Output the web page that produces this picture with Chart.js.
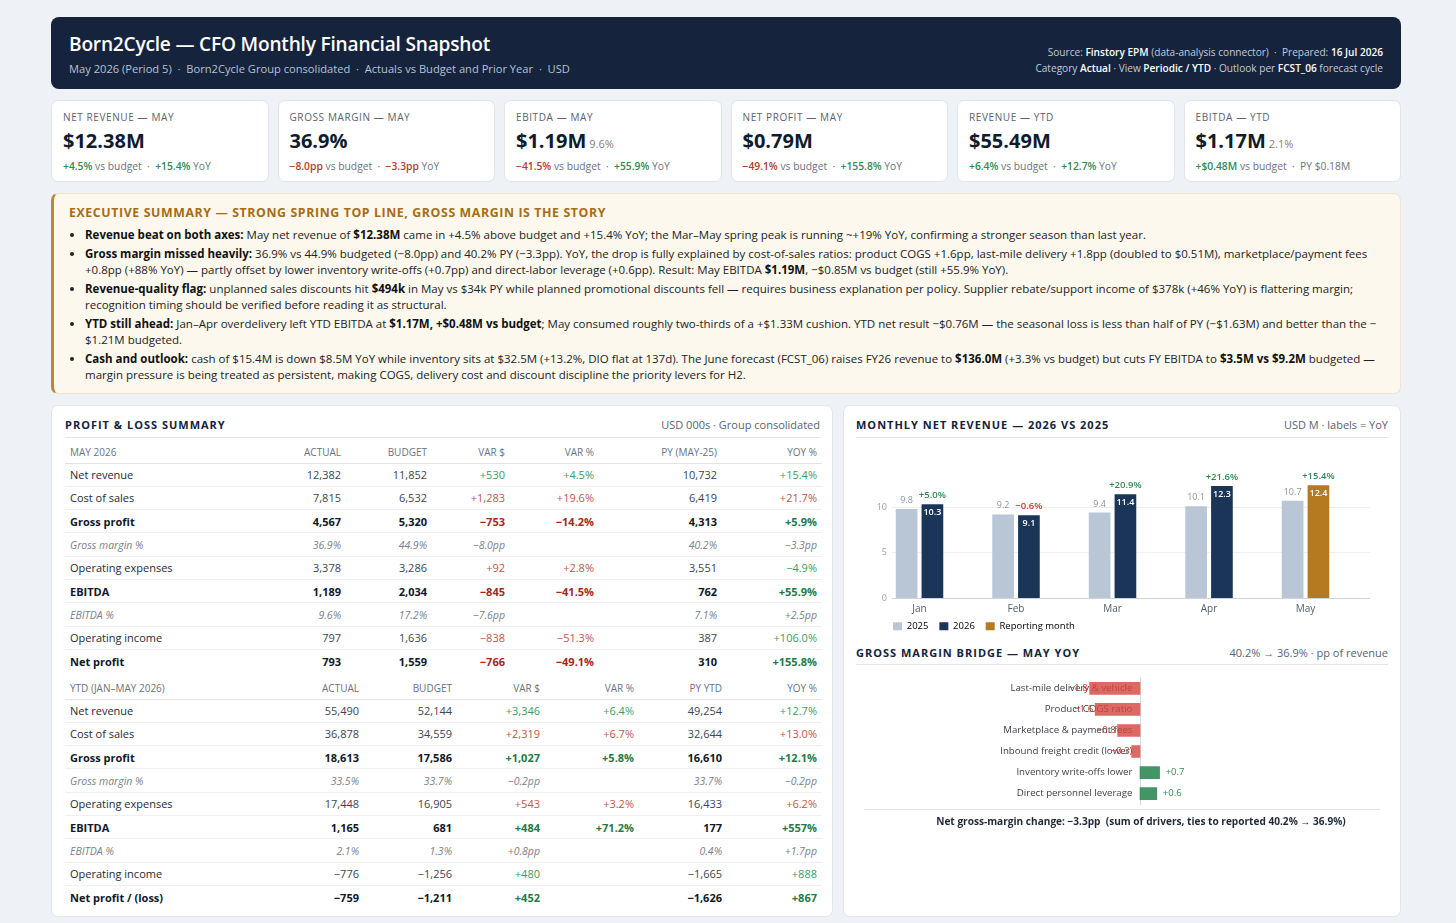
<!DOCTYPE html>
<html><head><meta charset="utf-8">
<script src="https://cdn.jsdelivr.net/npm/chart.js@4.4.1/dist/chart.umd.min.js"></script>
<style>
*{box-sizing:border-box;margin:0;padding:0}
body{width:1456px;height:923px;background:#eef1f5;font-family:"Open Sans",sans-serif;color:#1f2937;position:relative;overflow:hidden}
.abs{position:absolute}
#hdr{left:51px;top:17px;width:1350px;height:72px;background:#15233c;border-radius:8px;color:#fff}
#hdr h1{position:absolute;left:18px;top:14px;font-size:19.1px;font-weight:600;letter-spacing:-0.2px;white-space:nowrap}
#hdr .sub{position:absolute;left:18px;top:44px;font-size:11.15px;color:#b7c2d3;white-space:nowrap}
#hdr .meta{position:absolute;right:18px;top:27px;text-align:right;font-size:10.1px;color:#c3ccda;line-height:16px;white-space:nowrap}
#hdr .meta b{color:#fff;font-weight:600}
#kpis{left:51px;top:100px;width:1350px;height:82px;display:grid;grid-template-columns:repeat(6,1fr);gap:9px}
.kpi{background:#fff;border:1px solid #e1e5ea;border-radius:7px;position:relative}
.kpi .l{position:absolute;left:11px;top:9px;font-size:10px;letter-spacing:.6px;color:#5b6370;white-space:nowrap}
.kpi .v{position:absolute;left:11px;top:26px;font-size:20px;font-weight:700;color:#101b2c;white-space:nowrap}
.kpi .v small{font-size:11px;font-weight:400;color:#7b818b;margin-left:3px}
.kpi .s{position:absolute;left:11px;top:58px;font-size:10.3px;color:#6b7280;white-space:nowrap}
.g{color:#2f8a55;font-weight:600}
.r{color:#b23b2e;font-weight:600}
#sum{left:51px;top:193px;width:1350px;height:201px;background:#fcf8ee;border:1px solid #efe5cc;border-left:3px solid #b98a2e;border-radius:7px}
#sum h2{position:absolute;left:15px;top:10px;font-size:12.35px;font-weight:700;color:#a86c14;letter-spacing:.6px;white-space:nowrap}
#sum ul{position:absolute;left:31px;top:33px;right:14px;font-size:11.5px;line-height:16px;color:#222;list-style:disc}
#sum li{margin-bottom:3px}
#sum li b{font-weight:700;color:#111}
.panel{background:#fff;border:1px solid #e1e5ea;border-radius:7px}
.ptitle{position:absolute;top:11px;font-size:11px;font-weight:700;color:#14233b;letter-spacing:1px;white-space:nowrap}
.pright{position:absolute;top:11px;font-size:11px;color:#5b6370;white-space:nowrap}
.uline{position:absolute;height:1px;background:#e3e7eb}
#pl{left:51px;top:405px;width:782px;height:512px}
#rp{left:843px;top:405px;width:558px;height:512px}
table{position:absolute;border-collapse:collapse;table-layout:fixed;width:757px;font-size:11px}
td,th{padding:0 5px;text-align:right;white-space:nowrap;overflow:visible}
th{font-weight:400;font-size:10px;color:#6b7280;height:21px;border-bottom:1px solid #dfe3e8;text-transform:uppercase}
td{height:23.33px;border-bottom:1px solid #eef0f3;color:#3d4450}
td:first-child,th:first-child{text-align:left}
td:first-child{color:#1f2937}
tr.b td{font-weight:700;color:#111827}
tr.i td{font-style:italic;color:#7a808a;font-size:10.5px}
tr.t td{font-weight:700;color:#111827;border-top:1.5px solid #1c2b45;border-bottom:none}
td.g{color:#3f9a66;font-weight:400}
td.r{color:#c2554c;font-weight:400}
tr.b td.g,tr.t td.g{color:#1f7a45;font-weight:700}
tr.b td.r,tr.t td.r{color:#a3281c;font-weight:700}
.ch{position:absolute}
#foot{left:864px;top:809px;width:516px;border-top:1px solid #e3e7eb;padding-top:4px;padding-left:38px;text-align:center;font-size:10.1px;font-weight:700;color:#1f2937;white-space:nowrap}
</style></head>
<body>
<div id="hdr" class="abs">
  <h1>Born2Cycle — CFO Monthly Financial Snapshot</h1>
  <div class="sub">May 2026 (Period 5) &nbsp;·&nbsp; Born2Cycle Group consolidated &nbsp;·&nbsp; Actuals vs Budget and Prior Year &nbsp;·&nbsp; USD</div>
  <div class="meta">Source: <b>Finstory EPM</b> (data-analysis connector) &nbsp;·&nbsp; Prepared: <b>16 Jul 2026</b><br>Category <b>Actual</b> · View <b>Periodic / YTD</b> · Outlook per <b>FCST_06</b> forecast cycle</div>
</div>
<div id="kpis" class="abs">
  <div class="kpi"><div class="l">NET REVENUE — MAY</div><div class="v">$12.38M</div><div class="s"><span class="g">+4.5%</span> vs budget &nbsp;·&nbsp; <span class="g">+15.4%</span> YoY</div></div>
  <div class="kpi"><div class="l">GROSS MARGIN — MAY</div><div class="v">36.9%</div><div class="s"><span class="r">−8.0pp</span> vs budget &nbsp;·&nbsp; <span class="r">−3.3pp</span> YoY</div></div>
  <div class="kpi"><div class="l">EBITDA — MAY</div><div class="v">$1.19M<small>9.6%</small></div><div class="s"><span class="r">−41.5%</span> vs budget &nbsp;·&nbsp; <span class="g">+55.9%</span> YoY</div></div>
  <div class="kpi"><div class="l">NET PROFIT — MAY</div><div class="v">$0.79M</div><div class="s"><span class="r">−49.1%</span> vs budget &nbsp;·&nbsp; <span class="g">+155.8%</span> YoY</div></div>
  <div class="kpi"><div class="l">REVENUE — YTD</div><div class="v">$55.49M</div><div class="s"><span class="g">+6.4%</span> vs budget &nbsp;·&nbsp; <span class="g">+12.7%</span> YoY</div></div>
  <div class="kpi"><div class="l">EBITDA — YTD</div><div class="v">$1.17M<small>2.1%</small></div><div class="s"><span class="g">+$0.48M</span> vs budget &nbsp;·&nbsp; PY $0.18M</div></div>
</div>
<div id="sum" class="abs">
  <h2>EXECUTIVE SUMMARY — STRONG SPRING TOP LINE, GROSS MARGIN IS THE STORY</h2>
  <ul>
    <li><b>Revenue beat on both axes:</b> May net revenue of <b>$12.38M</b> came in +4.5% above budget and +15.4% YoY; the Mar–May spring peak is running ~+19% YoY, confirming a stronger season than last year.</li>
    <li><b>Gross margin missed heavily:</b> 36.9% vs 44.9% budgeted (−8.0pp) and 40.2% PY (−3.3pp). YoY, the drop is fully explained by cost-of-sales ratios: product COGS +1.6pp, last-mile delivery +1.8pp (doubled to $0.51M), marketplace/payment fees +0.8pp (+88% YoY) — partly offset by lower inventory write-offs (+0.7pp) and direct-labor leverage (+0.6pp). Result: May EBITDA <b>$1.19M</b>, −$0.85M vs budget (still +55.9% YoY).</li>
    <li><b>Revenue-quality flag:</b> unplanned sales discounts hit <b>$494k</b> in May vs $34k PY while planned promotional discounts fell — requires business explanation per policy. Supplier rebate/support income of $378k (+46% YoY) is flattering margin; recognition timing should be verified before reading it as structural.</li>
    <li><b>YTD still ahead:</b> Jan–Apr overdelivery left YTD EBITDA at <b>$1.17M, +$0.48M vs budget</b>; May consumed roughly two-thirds of a +$1.33M cushion. YTD net result −$0.76M — the seasonal loss is less than half of PY (−$1.63M) and better than the −$1.21M budgeted.</li>
    <li><b>Cash and outlook:</b> cash of $15.4M is down $8.5M YoY while inventory sits at $32.5M (+13.2%, DIO flat at 137d). The June forecast (FCST_06) raises FY26 revenue to <b>$136.0M</b> (+3.3% vs budget) but cuts FY EBITDA to <b>$3.5M vs $9.2M</b> budgeted — margin pressure is being treated as persistent, making COGS, delivery cost and discount discipline the priority levers for H2.</li>
  </ul>
</div>
<div id="pl" class="abs panel">
  <div class="ptitle" style="left:13px">PROFIT &amp; LOSS SUMMARY</div>
  <div class="pright" style="right:12px">USD 000s · Group consolidated</div>
  <div class="uline" style="left:13px;right:12px;top:31px"></div>
  <table id="t1" style="left:13px;top:36px"></table>
  <table id="t2" style="left:13px;top:272px"></table>
</div>
<div id="rp" class="abs panel">
  <div class="ptitle" style="left:12px">MONTHLY NET REVENUE — 2026 VS 2025</div>
  <div class="pright" style="right:12px">USD M · labels = YoY</div>
  <div class="uline" style="left:12px;right:12px;top:31px"></div>
  <div class="ptitle" style="left:12px;top:239px">GROSS MARGIN BRIDGE — MAY YOY</div>
  <div class="pright" style="right:12px;top:239px">40.2% → 36.9% · pp of revenue</div>
  <div class="uline" style="left:12px;right:12px;top:258px"></div>
</div>
<div class="ch" style="left:862px;top:440px;width:508px;height:201px"><canvas id="c1"></canvas></div>
<div class="ch" style="left:860px;top:669px;width:532px;height:144px"><canvas id="c2"></canvas></div>
<div id="foot" class="abs">Net gross-margin change: −3.3pp &nbsp;(sum of drivers, ties to reported 40.2% → 36.9%)</div>

<script>
// ---- Monthly net revenue data (USD M) ----
const months = ['Jan','Feb','Mar','Apr','May'];
const rev2025 = [9.8, 9.2, 9.4, 10.1, 10.7];
const rev2026 = [10.3, 9.1, 11.4, 12.3, 12.4];
const yoyPct = [5.0, -0.6, 20.9, 21.6, 15.4];
const reportingIndex = 4;
const yTicks = [0, 5, 10];

// ---- Gross margin bridge (pp of revenue) ----
const bridgeLabels = ['Last-mile delivery & vehicle','Product COGS ratio','Marketplace & payment fees','Inbound freight credit (lower)','Inventory write-offs lower','Direct personnel leverage'];
const bridgeValues = [-1.8, -1.6, -0.8, -0.3, 0.7, 0.6];

// ---- P&L tables ----
const t1Head = ['May 2026','Actual','Budget','Var $','Var %','PY (May-25)','YoY %'];
const t1Rows = [
 ['Net revenue','12,382','11,852','+530','+4.5%','10,732','+15.4%','n','g','g','g'],
 ['Cost of sales','7,815','6,532','+1,283','+19.6%','6,419','+21.7%','n','r','r','r'],
 ['Gross profit','4,567','5,320','−753','−14.2%','4,313','+5.9%','b','r','r','g'],
 ['Gross margin %','36.9%','44.9%','−8.0pp','','40.2%','−3.3pp','i','','',''],
 ['Operating expenses','3,378','3,286','+92','+2.8%','3,551','−4.9%','n','r','r','g'],
 ['EBITDA','1,189','2,034','−845','−41.5%','762','+55.9%','b','r','r','g'],
 ['EBITDA %','9.6%','17.2%','−7.6pp','','7.1%','+2.5pp','i','','',''],
 ['Operating income','797','1,636','−838','−51.3%','387','+106.0%','n','r','r','g'],
 ['Net profit','793','1,559','−766','−49.1%','310','+155.8%','t','r','r','g']
];
const t2Head = ['YTD (Jan–May 2026)','Actual','Budget','Var $','Var %','PY YTD','YoY %'];
const t2Rows = [
 ['Net revenue','55,490','52,144','+3,346','+6.4%','49,254','+12.7%','n','g','g','g'],
 ['Cost of sales','36,878','34,559','+2,319','+6.7%','32,644','+13.0%','n','r','r','r'],
 ['Gross profit','18,613','17,586','+1,027','+5.8%','16,610','+12.1%','b','g','g','g'],
 ['Gross margin %','33.5%','33.7%','−0.2pp','','33.7%','−0.2pp','i','','',''],
 ['Operating expenses','17,448','16,905','+543','+3.2%','16,433','+6.2%','n','r','r','r'],
 ['EBITDA','1,165','681','+484','+71.2%','177','+557%','b','g','g','g'],
 ['EBITDA %','2.1%','1.3%','+0.8pp','','0.4%','+1.7pp','i','','',''],
 ['Operating income','−776','−1,256','+480','','−1,665','+888','n','g','','g'],
 ['Net profit / (loss)','−759','−1,211','+452','','−1,626','+867','t','g','','g']
];
function buildTable(id, head, rows, widths){
  const t = document.getElementById(id);
  let h = '<colgroup>' + widths.map(w=>'<col style="width:'+w+'px">').join('') + '</colgroup>';
  h += '<tr>' + head.map(c=>'<th>'+c+'</th>').join('') + '</tr>';
  rows.forEach(r=>{
    const cls = [ '', '', '', r[8], r[9], '', r[10] ];
    h += '<tr class="'+r[7]+'">';
    for(let i=0;i<7;i++) h += '<td class="'+(cls[i]||'')+'">'+r[i]+'</td>';
    h += '</tr>';
  });
  t.innerHTML = h;
}
buildTable('t1', t1Head, t1Rows, [195,86,86,78,89,123,100]);
buildTable('t2', t2Head, t2Rows, [206,93,93,88,94,88,95]);

// ---- Charts ----
const C2025 = '#b9c6d5', C2026 = '#1b3558', CREP = '#b57a1f';
const GREEN = '#2f8a55', RED = '#c0392b';
const fmtSigned = v => (v >= 0 ? '+' : '\u2212') + Math.abs(v).toFixed(1);

const revLabels = {
  id: 'revLabels',
  afterDatasetsDraw(chart){
    const ctx = chart.ctx;
    ctx.save();
    const m0 = chart.getDatasetMeta(0), m1 = chart.getDatasetMeta(1);
    ctx.textAlign = 'center';
    m0.data.forEach((b,i)=>{
      ctx.font = '9px "Open Sans"'; ctx.fillStyle = '#8d949e'; ctx.textBaseline = 'bottom';
      ctx.fillText(rev2025[i].toFixed(1), b.x, b.y - 4);
    });
    m1.data.forEach((b,i)=>{
      ctx.font = '600 9px "Open Sans"'; ctx.fillStyle = '#ffffff'; ctx.textBaseline = 'top';
      ctx.fillText(rev2026[i].toFixed(1), b.x, b.y + 4);
      ctx.font = '600 9.5px "Open Sans"'; ctx.fillStyle = yoyPct[i] >= 0 ? GREEN : RED; ctx.textBaseline = 'bottom';
      ctx.fillText(fmtSigned(yoyPct[i]) + '%', b.x, b.y - 4);
    });
    ctx.restore();
  }
};

new Chart(document.getElementById('c1'), {
  type: 'bar',
  data: {
    datasets: [
      { label: '2025', data: rev2025.map((v,i)=>({x:i, y:v})), backgroundColor: C2025 },
      { label: '2026', data: rev2026.map((v,i)=>({x:i, y:v})), backgroundColor: rev2026.map((v,i)=> i===reportingIndex ? CREP : C2026) }
    ]
  },
  options: {
    responsive: true, maintainAspectRatio: false, animation: false,
    categoryPercentage: 0.535, barPercentage: 0.84,
    layout: { padding: { top: 30.5, left: 0, right: 0, bottom: 0 } },
    plugins: {
      tooltip: { enabled: false },
      legend: {
        position: 'bottom', align: 'start', fullSize: false,
        labels: {
          boxWidth: 9, boxHeight: 8, padding: 1, color: '#6b7280', font: { size: 9.5, family: 'Open Sans' },
          generateLabels(chart){
            return [
              { text: '2025    ', fillStyle: C2025, strokeStyle: C2025, lineWidth: 0, hidden: false, datasetIndex: 0 },
              { text: '2026    ', fillStyle: C2026, strokeStyle: C2026, lineWidth: 0, hidden: false, datasetIndex: 1 },
              { text: 'Reporting month', fillStyle: CREP, strokeStyle: CREP, lineWidth: 0, hidden: false, datasetIndex: 1 }
            ];
          }
        }
      }
    },
    scales: {
      x: {
        type: 'linear', offset: false, min: -0.285, max: 4.668,
        grid: { display: false, offset: false, drawTicks: false },
        border: { display: true, color: '#cdd3da' },
        ticks: { stepSize: 1, includeBounds: false, padding: 6, color: '#555b65', font: { size: 10, family: 'Open Sans', lineHeight: 1 }, callback: v => months[v] ?? '' }
      },
      y: {
        min: 0, max: 14,
        afterFit(s){ s.width = 30; },
        grid: { color: ctx => ctx.tick && ctx.tick.value === 0 ? '#cdd3da' : '#eceff3', drawTicks: false },
        border: { display: false },
        afterBuildTicks(s){ s.ticks = yTicks.map(v=>({value:v})); },
        ticks: { padding: 5, color: '#9aa0a8', font: { size: 9, family: 'Open Sans' } }
      }
    }
  },
  plugins: [revLabels]
});

const bridgeValueLabels = {
  id: 'bridgeValueLabels',
  afterDatasetsDraw(chart){
    const ctx = chart.ctx;
    ctx.save();
    ctx.font = '9.5px "Open Sans"'; ctx.textBaseline = 'middle';
    chart.getDatasetMeta(0).data.forEach((b,i)=>{
      const v = bridgeValues[i];
      ctx.fillStyle = v >= 0 ? GREEN : RED;
      if (v < 0) { ctx.textAlign = 'right'; ctx.fillText(fmtSigned(v), b.x - 2, b.y); }
      else { ctx.textAlign = 'left'; ctx.fillText(fmtSigned(v), b.x + 6, b.y); }
    });
    ctx.restore();
  }
};

new Chart(document.getElementById('c2'), {
  type: 'bar',
  data: {
    labels: bridgeLabels,
    datasets: [{
      data: bridgeValues,
      backgroundColor: bridgeValues.map(v => v < 0 ? 'rgba(212,72,66,0.82)' : 'rgba(47,138,85,0.9)'),
      barThickness: 12
    }]
  },
  options: {
    indexAxis: 'y', responsive: true, maintainAspectRatio: false, animation: false,
    layout: { padding: 0 },
    plugins: { legend: { display: false }, tooltip: { enabled: false } },
    scales: {
      x: { display: false, min: -10, max: 9 },
      y: {
        position: { x: 0 },
        grid: { display: false, drawTicks: false },
        border: { display: true, color: '#d3d8de' },
        ticks: { color: '#3b3f46', font: { size: 9.7, family: 'Open Sans' }, callback(v){ return this.getLabelForValue(v) + '   '; } }
      }
    }
  },
  plugins: [bridgeValueLabels]
});
</script>
</body></html>
